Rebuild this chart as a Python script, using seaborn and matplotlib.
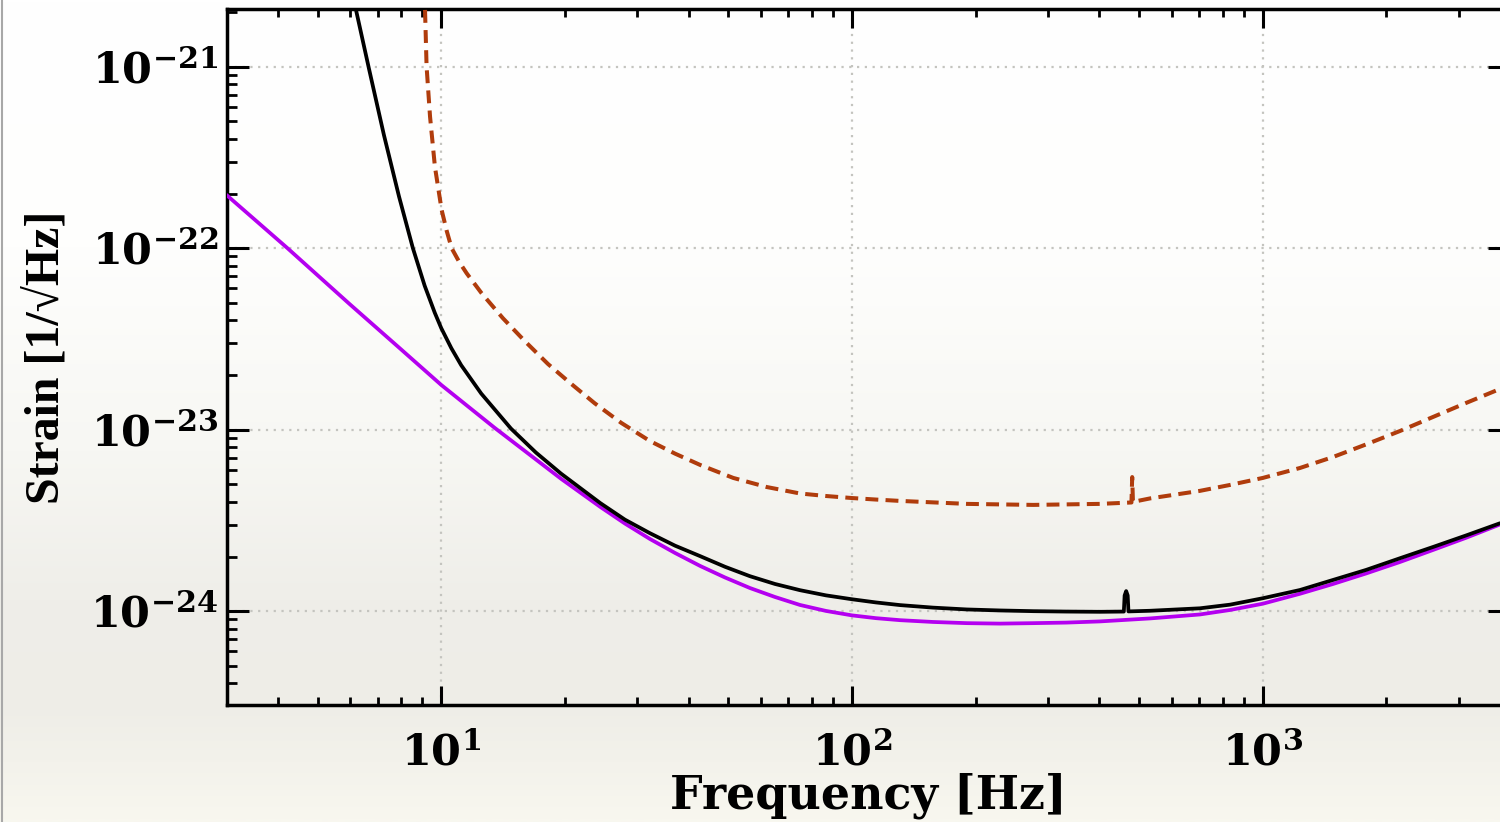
import numpy as np
import pandas as pd
import matplotlib
matplotlib.use("Agg")
import matplotlib.pyplot as plt
from matplotlib.colors import LinearSegmentedColormap
from matplotlib.ticker import LogLocator, FuncFormatter, NullFormatter
from matplotlib.lines import Line2D
import seaborn as sns

# Noise amplitude spectral densities, frequency in Hz, strain in 1/sqrt(Hz)
solid_freq = [6.20, 6.67, 7.25, 7.89, 8.53, 9.11, 9.64, 10.0, 10.58, 11.18, 12.51,
              14.78, 17.0, 19.56, 24.4, 28.0, 32.2, 37.07, 42.7, 49.07, 56.4, 64.94,
              74.7, 86.42, 100, 114.4, 130.9, 157.5, 190.3, 229.3, 276.3, 332.0,
              401, 459, 461, 465, 469, 471, 531.6, 703, 832.6, 1000, 1232, 1483,
              1784, 2158, 2598, 3126, 3780]
solid_asd = [2.053e-21, 9.71e-22, 4.205e-22, 1.927e-22, 9.99e-23, 6.214e-23,
             4.412e-23, 3.624e-23, 2.812e-23, 2.266e-23, 1.581e-23, 1.014e-23,
             7.48e-24, 5.73e-24, 3.936e-24, 3.193e-24, 2.690e-24, 2.296e-24,
             2.009e-24, 1.756e-24, 1.559e-24, 1.412e-24, 1.305e-24, 1.222e-24,
             1.163e-24, 1.117e-24, 1.080e-24, 1.046e-24, 1.022e-24, 1.009e-24,
             1.0e-24, 9.95e-25, 9.92e-25, 9.95e-25, 1.22e-24, 1.29e-24, 1.22e-24,
             9.97e-25, 1.005e-24, 1.037e-24, 1.086e-24, 1.178e-24, 1.308e-24,
             1.486e-24, 1.687e-24, 1.957e-24, 2.258e-24, 2.613e-24, 3.05e-24]

violet_freq = [3.0, 4.23, 5.97, 7.93, 10.0, 13.5, 19.6, 24.4, 28.0, 32.2, 37.07,
               42.7, 49.07, 56.4, 64.94, 74.7, 86.42, 100, 114.4, 130.9, 157.5,
               190.3, 229.3, 276.3, 332.0, 401, 531.6, 703, 832.6, 1000, 1232,
               1483, 1784, 2158, 2598, 3126, 3780]
violet_asd = [1.963e-22, 9.96e-23, 4.94e-23, 2.805e-23, 1.763e-23, 1.022e-23,
              5.35e-24, 3.75e-24, 3.039e-24, 2.50e-24, 2.093e-24, 1.774e-24,
              1.533e-24, 1.342e-24, 1.197e-24, 1.082e-24, 1.003e-24, 9.48e-25,
              9.15e-25, 8.92e-25, 8.72e-25, 8.59e-25, 8.54e-25, 8.59e-25, 8.65e-25,
              8.78e-25, 9.12e-25, 9.59e-25, 1.015e-24, 1.099e-24, 1.247e-24,
              1.412e-24, 1.613e-24, 1.866e-24, 2.174e-24, 2.537e-24, 3.004e-24]

dashed_freq = [9.13, 9.21, 9.39, 9.65, 10.02, 10.31, 10.60, 11.06, 11.53, 12.54,
               14.13, 15.96, 18.19, 20.73, 23.63, 27.44, 32.2, 37.07, 42.7, 51.4,
               62.0, 74.7, 86.42, 100, 114.4, 130.9, 190.3, 276.3, 401, 479, 481,
               483, 531.6, 703, 832.6, 1000, 1232, 1483, 1784, 2158, 2598, 3126, 3780]
dashed_asd = [2.053e-21, 1.0e-21, 5.30e-22, 2.81e-22, 1.624e-22, 1.244e-22,
              9.99e-23, 8.39e-23, 7.27e-23, 5.64e-23, 4.11e-23, 3.08e-23, 2.30e-23,
              1.786e-23, 1.398e-23, 1.089e-23, 8.66e-24, 7.38e-24, 6.39e-24,
              5.42e-24, 4.83e-24, 4.45e-24, 4.31e-24, 4.20e-24, 4.12e-24, 4.05e-24,
              3.90e-24, 3.85e-24, 3.90e-24, 3.97e-24, 5.48e-24, 4.0e-24, 4.18e-24,
              4.60e-24, 4.96e-24, 5.42e-24, 6.15e-24, 7.07e-24, 8.29e-24, 9.83e-24,
              1.175e-23, 1.403e-23, 1.676e-23]

x_major_ticks = [10, 100, 1000]
y_major_ticks = [1e-24, 1e-23, 1e-22, 1e-21]
x_label = "Frequency [Hz]"
y_label = "Strain [1/√Hz]"

sns.set_theme(style="ticks")
plt.rcParams.update({
    "font.family": ["DejaVu Serif"],
    "font.weight": "bold",
    "mathtext.fontset": "dejavuserif",
    "mathtext.default": "bf",
    "axes.linewidth": 2.5,
    "axes.edgecolor": "black",
    "text.color": "black",
    "axes.labelcolor": "black",
    "xtick.color": "black",
    "ytick.color": "black",
})

fig = plt.figure(figsize=(15, 8.22), dpi=100)

# soft vertical background wash
bg = fig.add_axes([0, 0, 1, 1], zorder=-10)
stops = [(0.0, "#ffffff"), (0.30, "#fefefd"), (0.55, "#f7f7f3"),
         (0.73, "#efeee9"), (0.86, "#eeede7"), (1.0, "#f8f7ef")]
cmap = LinearSegmentedColormap.from_list("wash", stops)
grad = np.linspace(0, 1, 400).reshape(-1, 1)
bg.imshow(grad, cmap=cmap, aspect="auto", extent=[0, 1, 0, 1], origin="upper")
bg.set_axis_off()
fig.add_artist(Line2D([0.001, 0.001], [0, 1], transform=fig.transFigure,
                      color="#a8a8a8", lw=1.5))

ax = fig.add_axes([0.151, 0.1423, 0.8557, 0.8464])
ax.set_facecolor("none")

df_solid = pd.DataFrame({"f": solid_freq, "h": solid_asd})
df_violet = pd.DataFrame({"f": violet_freq, "h": violet_asd})
df_dashed = pd.DataFrame({"f": dashed_freq, "h": dashed_asd})

sns.lineplot(data=df_violet, x="f", y="h", ax=ax, color="#b400f0", lw=2.7,
             estimator=None, sort=False, zorder=3)
sns.lineplot(data=df_solid, x="f", y="h", ax=ax, color="black", lw=2.7,
             estimator=None, sort=False, zorder=4)
sns.lineplot(data=df_dashed, x="f", y="h", ax=ax, color="#b03c0c", lw=2.9,
             linestyle=(0, (3.2, 1.8)), estimator=None, sort=False, zorder=4)

ax.set_xscale("log")
ax.set_yscale("log")
ax.set_xlim(3.0, 4000)
ax.set_ylim(3.04e-25, 2.07e-21)

ax.xaxis.set_minor_locator(LogLocator(base=10, subs=np.arange(2, 10), numticks=20))
ax.yaxis.set_minor_locator(LogLocator(base=10, subs=np.arange(2, 10), numticks=20))
ax.set_xticks(x_major_ticks)
ax.set_yticks(y_major_ticks)
fmt = FuncFormatter(lambda v, pos: r"$\mathbf{10^{%d}}$" % int(round(np.log10(v))))
ax.xaxis.set_major_formatter(fmt)
ax.yaxis.set_major_formatter(fmt)
ax.xaxis.set_minor_formatter(NullFormatter())
ax.yaxis.set_minor_formatter(NullFormatter())

ax.tick_params(axis="x", which="major", direction="in", length=13.5, width=2.2,
               top=True, bottom=True, labelsize=31, pad=20)
ax.tick_params(axis="x", which="minor", direction="in", length=6, width=2,
               top=True, bottom=True)
ax.tick_params(axis="y", which="major", direction="in", length=16, width=2.2,
               left=True, right=True, labelsize=31, pad=6)
ax.tick_params(axis="y", which="minor", direction="in", length=7, width=2,
               left=True, right=True)

ax.grid(True, which="major", color="#c4c4bf", linestyle=(0, (1, 2.5)), linewidth=1.6)
ax.set_axisbelow(True)
ax.set_xlabel("")
ax.set_ylabel("")

fig.text(868 / 1500, 1 - 808 / 822, x_label, ha="center", va="baseline",
         fontsize=33, fontweight="bold", family="DejaVu Serif")
fig.text(47 / 1500, 1 - 357 / 822, y_label, ha="center", va="center", rotation=90,
         fontsize=34.5, fontweight="bold", family=["Liberation Serif", "DejaVu Serif"])

fig.savefig("out.png", dpi=100)
